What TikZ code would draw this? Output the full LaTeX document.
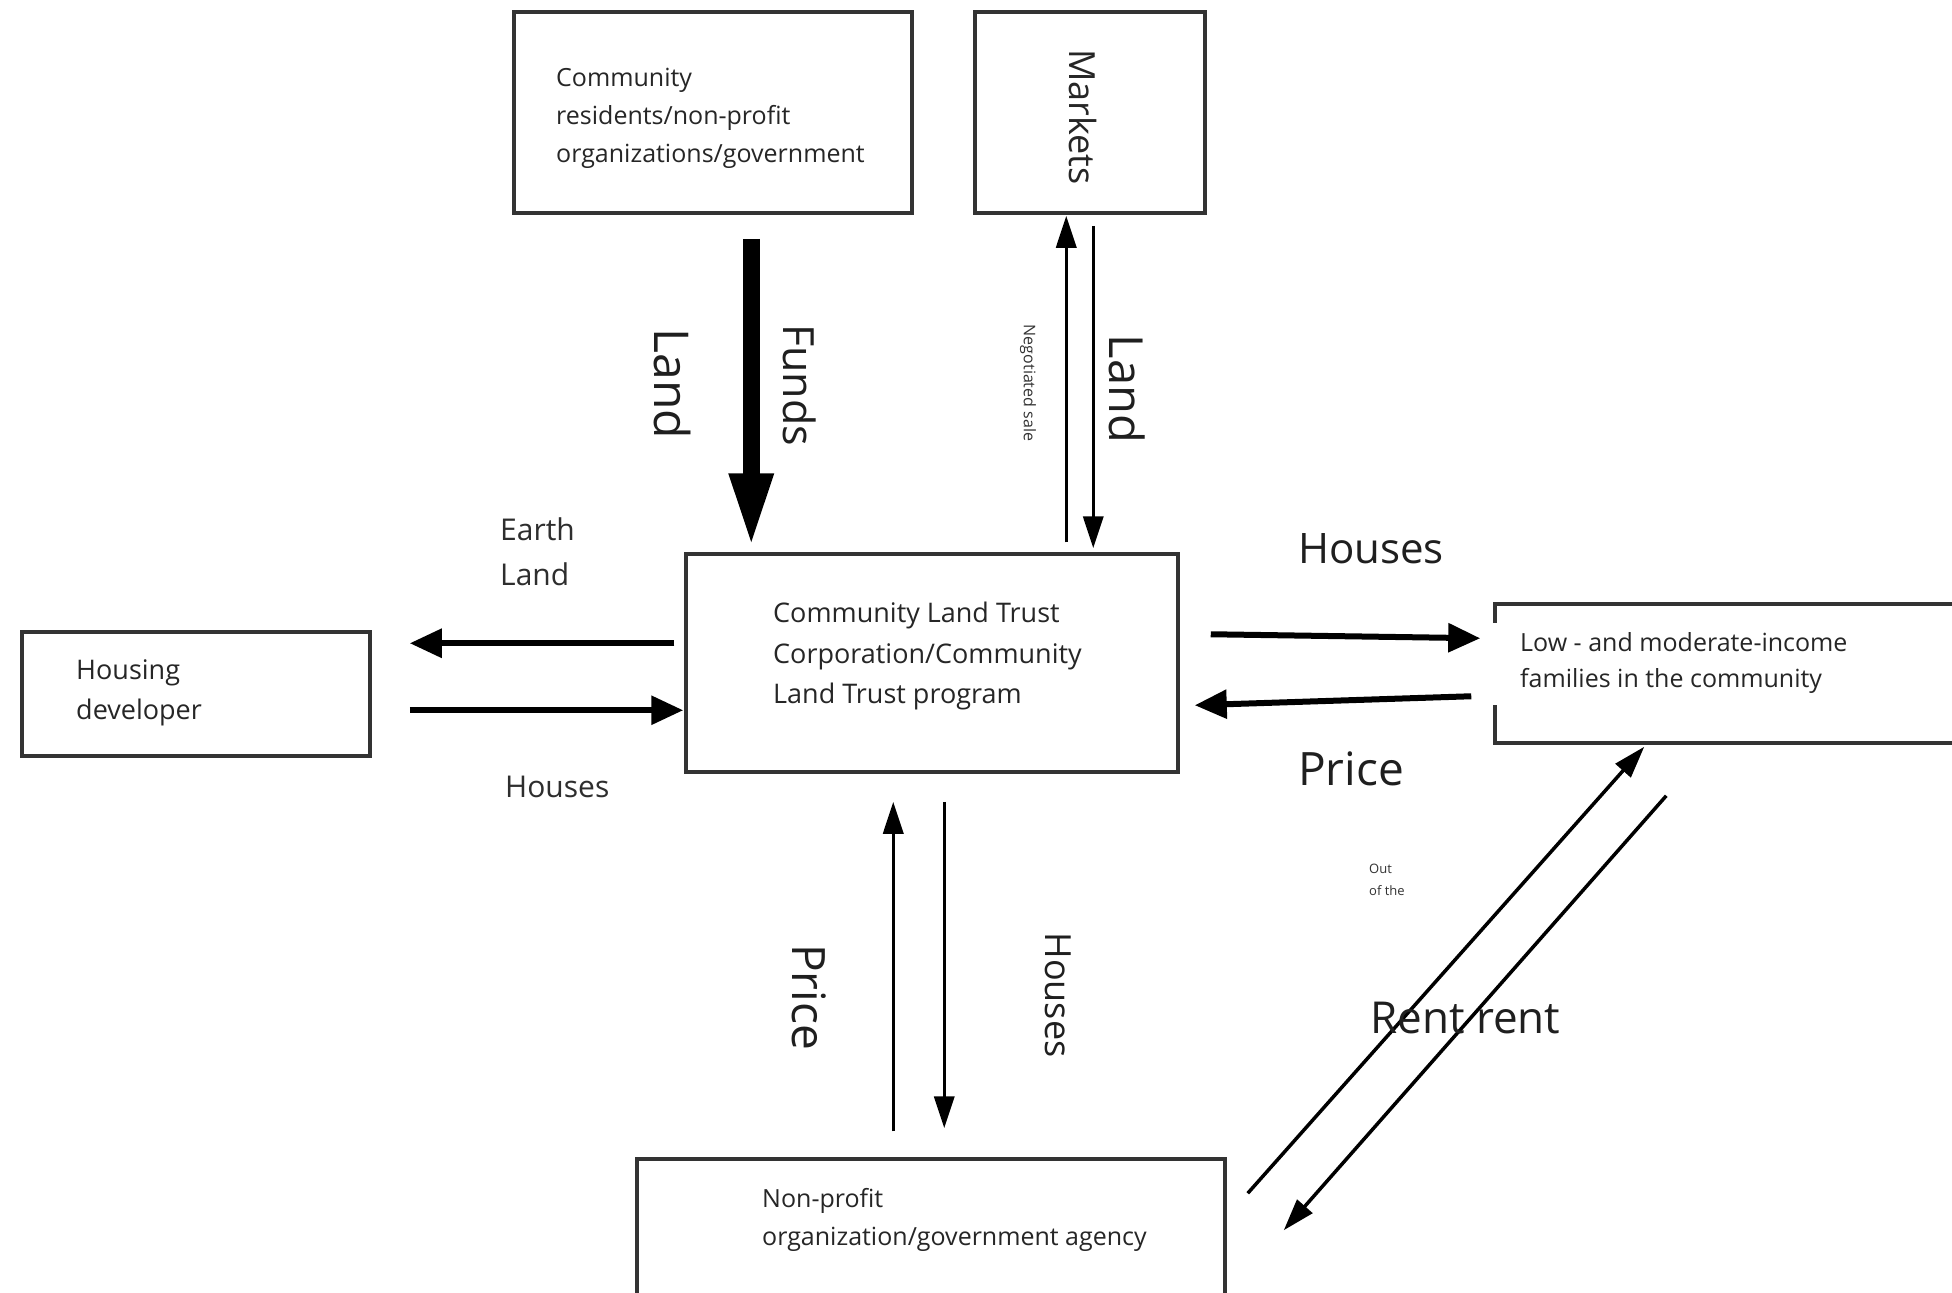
\documentclass[tikz,border=0pt]{standalone}
\usepackage{fontspec}
\setmainfont{Open Sans}
\newfontfamily\boxfont{Open Sans}
\usetikzlibrary{arrows.meta,calc}

\begin{document}
\begin{tikzpicture}[x=1pt,y=-1pt,
  box/.style={draw=black!80,line width=3.5pt,rectangle,inner sep=0pt},
  boxtext/.style={anchor=west,align=left,text=black!85,inner sep=0pt,
    font=\boxfont\fontsize{25}{38}\selectfont},
  biglabel/.style={inner sep=0pt,text=black!88,font=\fontsize{42}{50}\selectfont},
  midlabel/.style={inner sep=0pt,anchor=west,text=black!82,font=\boxfont\fontsize{30}{45}\selectfont},
  thinflow/.style={line width=3.5pt,-{Triangle[width=20pt,length=32pt]}},
  boldflow/.style={line width=6pt,-{Triangle[width=28pt,length=32pt]}},
  fundflow/.style={line width=17pt,-{Triangle[width=40pt,length=75pt]}}]

% page
\fill[white] (0,0) rectangle (1952,1293);
\useasboundingbox (0,0) rectangle (1952,1293);

% boxes
\node[box,minimum width=398pt,minimum height=201pt] (comm) at (713,112.5) {};
\node[box,minimum width=230pt,minimum height=201pt] (mkt) at (1090,112.5) {};
\node[box,minimum width=492pt,minimum height=218pt] (clt) at (932,663) {};
\node[box,minimum width=348pt,minimum height=124pt] (hdev) at (196,694) {};
\node[box,minimum width=465pt,minimum height=139pt] (fam) at (1727.5,673.5) {};
\node[box,minimum width=588pt,minimum height=141pt] (np) at (931,1229.5) {};

% opening in the left side of the families box
\fill[white] ($(fam.north west)+(-4,21)$) rectangle ($(fam.north west)+(4,103)$);

% box texts
\node[boxtext] (commtxt) at (556,118)
  {Community\\residents/non-profit\\organizations/government};
\node[inner sep=0pt,rotate=-90,text=black!85,font=\fontsize{36}{40}\selectfont]
  (mkttxt) at (1083,117) {Markets};
\node[boxtext,font=\boxfont\fontsize{27}{40.5}\selectfont] (clttxt) at (773,656)
  {Community Land Trust\\Corporation/Community\\Land Trust program};
\node[boxtext,font=\boxfont\fontsize{27}{40}\selectfont] (hdevtxt) at (76,693)
  {Housing\\developer};
\node[boxtext,font=\boxfont\fontsize{25}{36}\selectfont] (famtxt) at (1520,663)
  {Low - and moderate-income\\families in the community};
\node[boxtext,font=\boxfont\fontsize{25}{38}\selectfont] (nptxt) at (762,1220)
  {Non-profit\\organization/government agency};

% flows between the trust and its sources of land
\draw[fundflow] ($(comm.south west)+(239,24)$) -- ($(clt.north west)+(67,-4)$);
\draw[thinflow] ($(clt.north west)+(382,-10)$) -- ($(mkt.south west)+(93,1)$);
\draw[thinflow] ($(mkt.south west)+(120,11)$) -- ($(clt.north west)+(409,-4)$);

% flows with the housing developer
\draw[boldflow] ($(clt.north west)+(-10,91)$) -- ($(hdev.north east)+(38,13)$);
\draw[boldflow] ($(hdev.north east)+(38,80)$) -- ($(clt.north west)+(-1,158)$);

% flows with the families
\draw[boldflow] ($(clt.north east)+(31,82)$) -- ($(fam.north west)+(-13,36)$);
\draw[boldflow] ($(fam.north west)+(-22,94)$) -- ($(clt.north east)+(15,153)$);

% flows with the non-profit agency
\draw[thinflow] ($(np.north west)+(258,-26)$) -- ($(clt.south west)+(209,28)$);
\draw[thinflow] ($(clt.south west)+(260,28)$) -- ($(np.north west)+(309,-29)$);

% rent between agency and families
\draw[thinflow] ($(np.north east)+(21,36)$) -- ($(fam.south west)+(151,2)$);
\draw[thinflow] ($(fam.south west)+(173,51)$) -- ($(np.north east)+(57,73)$);

% labels
\node[biglabel,rotate=-90,font=\fontsize{48}{50}\selectfont] (landA) at (672,384) {Land};
\node[biglabel,rotate=-90,font=\fontsize{43}{50}\selectfont] (funds) at (800,385) {Funds};
\node[inner sep=0pt,rotate=-90,text=black!80,font=\fontsize{16}{18}\selectfont]
  (nego) at (1028,383) {Negotiated sale};
\node[biglabel,rotate=-90,font=\fontsize{47}{50}\selectfont] (landB) at (1127,389) {Land};
\node[midlabel] (earth) at (500,529) {Earth};
\node[midlabel] (landC) at (500,574) {Land};
\node[midlabel] (housA) at (505,787) {Houses};
\node[biglabel,anchor=west] (housB) at (1298,549) {Houses};
\node[biglabel,anchor=west,font=\fontsize{46}{50}\selectfont] (priceA) at (1298,769) {Price};
\node[biglabel,rotate=-90,font=\fontsize{46}{50}\selectfont] (priceB) at (809,997) {Price};
\node[biglabel,rotate=-90,font=\fontsize{36}{50}\selectfont] (housC) at (1058,995) {Houses};
\node[biglabel,anchor=west,font=\fontsize{44}{50}\selectfont] (rent) at (1370,1018) {Rent rent};
\node[inner sep=0pt,anchor=west,align=left,text=black!80,font=\fontsize{13}{22}\selectfont]
  (outof) at (1369,880) {Out\\of the};

\end{tikzpicture}
\end{document}
